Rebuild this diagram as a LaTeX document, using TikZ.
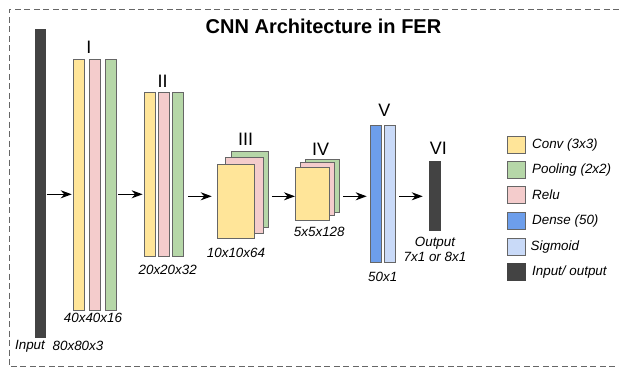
\documentclass[tikz,border=0pt]{standalone}
\usepackage{fontspec}
\setmainfont{Liberation Sans}
\usetikzlibrary{positioning, arrows.meta}

\definecolor{convc}{HTML}{FFE599}
\definecolor{poolc}{HTML}{B6D7A8}
\definecolor{reluc}{HTML}{F4CCCC}
\definecolor{densec}{HTML}{6D9EEB}
\definecolor{sigmc}{HTML}{C9DAF8}
\definecolor{ioc}{HTML}{434343}
\definecolor{edgec}{HTML}{666666}

\begin{document}
\begin{tikzpicture}[x=1pt, y=-1pt,
    box/.style={draw=edgec, line width=0.9pt, inner sep=0pt, outer sep=0pt},
    conv/.style={box, fill=convc},
    pool/.style={box, fill=poolc},
    relu/.style={box, fill=reluc},
    dense/.style={box, fill=densec},
    sigm/.style={box, fill=sigmc},
    io/.style={box, draw=ioc, fill=ioc},
    lab/.style={font=\fontsize{13.4}{15.6}\selectfont\itshape, inner sep=0pt},
    num/.style={font=\fontsize{18}{20}\selectfont, inner sep=0pt},
    arr/.style={-{Stealth[length=11pt, width=8pt, inset=3.5pt]}, line width=1.3pt}]

        \useasboundingbox (0,0) rectangle (619,369);
        \draw[edgec, line width=1pt, dash pattern=on 6pt off 3.5pt]
            (619,9.5) -- (9,9.5) -- (9,366.7) -- (619,366.7);

        \node[font=\fontsize{20}{24}\selectfont\bfseries, inner sep=0pt] (ttl) at (323.5,26.5) {CNN Architecture in FER};

        % input
        \node[io, minimum width=10, minimum height=308] (in) at (40,183) {};
        \node[lab] (inlab) at (30,346) {Input};
        \node[lab] (insize) at (78,346) {80x80x3};

        % I
        \node[conv, minimum width=10.7, minimum height=250.7] (c1) at (78.7,184.7) {};
        \node[relu, minimum width=11, minimum height=250.7] (r1) at (94.8,184.7) {};
        \node[pool, minimum width=11, minimum height=250.7] (p1) at (110.8,184.7) {};
        \node[num] (n1) at (89,47) {I};
        \node[lab] (s1) at (93,318.3) {40x40x16};

        % II
        \node[conv, minimum width=10.7, minimum height=164.3] (c2) at (150,174.2) {};
        \node[relu, minimum width=11, minimum height=164.3] (r2) at (164.2,174.2) {};
        \node[pool, minimum width=11, minimum height=164.3] (p2) at (178.2,174.2) {};
        \node[num] (n2) at (162.7,81) {II};
        \node[lab] (s2) at (167.7,270) {20x20x32};

        % III
        \node[pool, minimum width=37.5, minimum height=76] (p3) at (250,189.7) {};
        \node[relu, minimum width=37.5, minimum height=76] (r3) at (244.4,195.4) {};
        \node[conv, minimum width=37.5, minimum height=74] (c3) at (236,201.7) {};
        \node[num] (n3) at (245.7,139) {III};
        \node[lab] (s3) at (236,253.3) {10x10x64};

        % IV
        \node[pool, minimum width=34, minimum height=53] (p4) at (322.7,185.5) {};
        \node[relu, minimum width=34, minimum height=53] (r4) at (317.7,189.2) {};
        \node[conv, minimum width=34, minimum height=53] (c4) at (312.5,193.8) {};
        \node[num] (n4) at (320.7,149.3) {IV};
        \node[lab] (s4) at (319.3,231.7) {5x5x128};

        % V
        \node[dense, minimum width=11, minimum height=137.3] (d5) at (375.5,193.7) {};
        \node[sigm, minimum width=11, minimum height=137.3] (g5) at (389.8,193.7) {};
        \node[num] (n5) at (384.3,110) {V};
        \node[lab] (s5) at (382.7,277.3) {50x1};

        % VI
        \node[io, minimum width=10.7, minimum height=69.7] (out) at (434.7,195.8) {};
        \node[num] (n6) at (438.3,148.3) {VI};
        \node[lab, align=center] (outlab) at (435,249.5) {Output\\7x1 or 8x1};

        % arrows
        \coordinate (rowa) at (0,194.3);
        \coordinate (rowb) at (0,196.3);
        \draw[arr, shorten <=1.7pt, shorten >=1.6pt] (in.east |- rowa) -- (c1.west |- rowa);
        \draw[arr, shorten <=2pt, shorten >=2pt] (p1.east |- rowa) -- (c2.west |- rowa);
        \draw[arr, shorten <=4.3pt, shorten >=5.5pt] (p2.east |- rowb) -- (c3.west |- rowb);
        \draw[arr, shorten <=3pt, shorten >=0.5pt] (p3.east |- rowb) -- (c4.west |- rowb);
        \draw[arr, shorten <=3.6pt, shorten >=3.3pt] (p4.east |- rowb) -- (d5.west |- rowb);
        \draw[arr, shorten <=4pt, shorten >=6.6pt] (g5.east |- rowb) -- (out.west |- rowb);

        % legend
        \node[conv, minimum width=17.3, minimum height=17] (lg1) at (516.3,145) {};
        \node[pool, minimum width=17.3, minimum height=17] (lg2) at (516.3,170) {};
        \node[relu, minimum width=17.3, minimum height=17] (lg3) at (516.3,195) {};
        \node[dense, minimum width=17.3, minimum height=17] (lg4) at (516.3,220.7) {};
        \node[sigm, minimum width=17.3, minimum height=17] (lg5) at (516.3,246.7) {};
        \node[io, minimum width=17.3, minimum height=17] (lg6) at (516.3,272.3) {};
        \node[lab, right=7pt of lg1] (t1) {Conv (3x3)};
        \node[lab, right=7pt of lg2] (t2) {Pooling (2x2)};
        \node[lab, right=7pt of lg3] (t3) {Relu};
        \node[lab, right=7pt of lg4] (t4) {Dense (50)};
        \node[lab, right=5.5pt of lg5] (t5) {Sigmoid};
        \node[lab, right=7pt of lg6] (t6) {Input/ output};
\end{tikzpicture}
\end{document}
